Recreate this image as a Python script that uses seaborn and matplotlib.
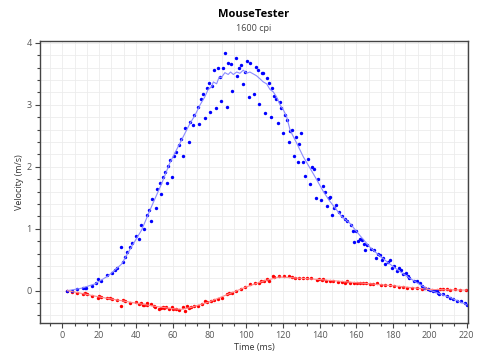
import numpy as np
import pandas as pd
import matplotlib
matplotlib.use("Agg")
import matplotlib.pyplot as plt
import seaborn as sns
from matplotlib.ticker import MultipleLocator

# x velocity samples (blue dots)
blue_t = [2.7, 5.4, 8.2, 11.3, 12.4, 12.9, 16.2, 18.2, 19.3, 21.1, 24.1, 27.0, 28.7, 29.8,
          32.1, 33.0, 33.9, 35.2, 36.8, 38.1, 39.9, 41.9, 43.0, 44.6, 45.9, 47.0, 48.1, 48.8,
          50.8, 51.7, 53.0, 53.9, 54.8, 55.7, 56.8, 57.7, 58.8, 59.7, 60.8, 61.9, 63.7, 64.7,
          65.7, 66.8, 68.8, 69.7, 70.9, 71.8, 73.7, 74.6, 75.6, 76.7, 77.6, 78.6, 79.6, 80.5,
          81.6, 82.7, 83.5, 84.5, 85.6, 86.5, 87.4, 88.5, 89.6, 90.3, 91.6, 92.5, 94.5, 95.2,
          96.3, 97.4, 98.3, 99.4, 100.3, 101.4, 102.3, 104.3, 105.4, 106.3, 107.2, 108.5, 109.4,
          110.3, 111.4, 112.3, 113.4, 114.3, 115.2, 116.3, 117.2, 118.3, 119.2, 120.1, 121.2,
          122.1, 123.2, 124.1, 125.1, 126.1, 127.1, 128.1, 128.9, 129.9, 131.0, 132.0, 134.0,
          134.9, 136.0, 137.0, 138.0, 139.1, 140.9, 141.8, 142.9, 144.0, 144.9, 145.8, 146.9,
          147.8, 148.9, 150.7, 152.0, 153.8, 155.0, 156.9, 158.0, 158.9, 159.8, 160.9, 162.0,
          163.1, 164.0, 164.9, 165.8, 167.8, 169.6, 170.8, 171.6, 172.9, 173.8, 174.7, 175.7,
          177.4, 178.5, 179.6, 180.5, 182.1, 183.2, 184.3, 185.4, 187.2, 188.1, 188.6, 191.4,
          192.8, 194.5, 195.5, 197.0, 199.1, 200.0, 201.5, 202.8, 204.0, 204.6, 205.1, 207.3,
          209.1, 211.0, 212.8, 214.6, 216.9, 219.1, 220.4]
blue_v = [0.00, 0.00, 0.02, 0.05, 0.05, 0.04, 0.08, 0.13, 0.19, 0.16, 0.25, 0.28, 0.33, 0.36,
          0.71, 0.46, 0.55, 0.63, 0.71, 0.77, 0.89, 0.84, 1.06, 1.00, 1.22, 1.30, 1.12, 1.48,
          1.33, 1.64, 1.74, 1.56, 1.84, 1.92, 1.74, 2.01, 2.11, 1.84, 2.18, 2.24, 2.35, 2.45,
          2.18, 2.62, 2.40, 2.73, 2.68, 2.83, 2.97, 2.69, 3.10, 3.18, 2.78, 3.27, 3.35, 2.89,
          3.31, 3.57, 2.95, 3.60, 3.45, 3.07, 3.59, 3.83, 2.96, 3.68, 3.66, 3.22, 3.75, 3.47,
          3.59, 3.64, 3.33, 3.53, 3.70, 3.13, 3.67, 3.17, 3.61, 3.57, 3.02, 3.51, 3.52,
          2.87, 3.43, 3.35, 2.81, 3.28, 3.14, 3.09, 2.70, 3.05, 2.95, 2.54, 2.83,
          2.75, 2.40, 2.58, 2.59, 2.18, 2.48, 2.08, 2.37, 2.54, 2.07, 1.85, 2.12,
          1.73, 1.99, 1.97, 1.50, 1.81, 1.47, 1.69, 1.60, 1.37, 1.50, 1.52, 1.22,
          1.33, 1.38, 1.27, 1.20, 1.15, 1.12, 1.06, 0.97, 0.79, 0.97, 0.81, 0.84,
          0.82, 0.75, 0.66, 0.74, 0.67, 0.65, 0.53, 0.60, 0.57, 0.49, 0.53, 0.43,
          0.47, 0.49, 0.37, 0.40, 0.32, 0.36, 0.34, 0.27, 0.28, 0.23, 0.20, 0.16,
          0.16, 0.12, 0.07, 0.05, 0.02, 0.01, 0.00, -0.01, -0.01, -0.03, -0.05, -0.06,
          -0.09, -0.11, -0.13, -0.16, -0.17, -0.20, -0.23]

# smoothed x velocity (light blue line)
blue_line_t = [2.7, 10.5, 17.8, 25.0, 32.3, 37.7, 43.2, 48.6, 54.1, 58.5, 64.0, 69.5, 72.2,
               75.0, 77.6, 79.4, 81.3, 82.2, 84.0, 85.4, 86.6, 88.5, 90.3, 91.6, 93.1, 94.9,
               96.7, 98.5, 100.3, 102.1, 103.9, 105.7, 107.6, 109.4, 111.2, 113.0, 114.8,
               116.6, 118.5, 120.3, 122.1, 124.0, 127.6, 131.2, 134.8, 138.5, 142.1, 145.7,
               149.4, 152.0, 156.5, 162.0, 167.5, 172.9, 178.3, 183.7, 189.2, 194.6, 200.0,
               205.5, 211.0, 215.7, 220.4]
blue_line_v = [0.00, 0.04, 0.11, 0.24, 0.43, 0.71, 0.98, 1.36, 1.73, 2.06, 2.38, 2.70, 2.83,
               3.00, 3.13, 3.25, 3.29, 3.37, 3.34, 3.45, 3.44, 3.52, 3.49, 3.53, 3.49, 3.53,
               3.51, 3.56, 3.51, 3.53, 3.50, 3.47, 3.42, 3.37, 3.34, 3.25, 3.21,
               3.13, 3.00, 2.92, 2.81, 2.59, 2.38, 2.16, 1.98, 1.79, 1.60, 1.44,
               1.30, 1.20, 1.09, 0.89, 0.70, 0.56, 0.43, 0.31, 0.20, 0.10, 0.01,
               -0.05, -0.11, -0.17, -0.23]

# y velocity samples (red dots)
red_t = [2.7, 5.4, 8.2, 11.3, 12.4, 13.3, 16.2, 19.3, 19.8, 21.1, 24.1, 26.0, 27.0, 29.8,
         32.1, 33.0, 33.9, 36.8, 39.9, 41.9, 43.0, 43.7, 44.6, 45.9, 46.3, 48.1, 50.1, 50.5,
         52.8, 53.7, 54.9, 55.4, 56.6, 57.9, 59.5, 60.2, 61.9, 63.7, 65.5, 66.6, 67.7, 69.0,
         69.9, 71.7, 74.0, 76.0, 77.8, 78.7, 80.7, 82.5, 84.5, 86.7, 89.4, 90.5, 92.3, 94.5,
         97.2, 99.4, 102.1, 104.8, 107.2, 108.1, 109.9, 111.2, 112.6, 114.5, 115.4, 118.1,
         120.8, 123.4, 124.8, 126.6, 128.9, 131.1, 133.3, 135.6, 138.4, 139.6, 141.1, 142.0,
         143.5, 145.6, 147.4, 150.2, 152.0, 153.8, 155.1, 156.5, 158.7, 160.2, 162.0, 163.5,
         165.2, 167.4, 169.2, 171.4, 173.4, 175.6, 178.3, 180.5, 183.0, 185.5, 187.7, 190.1,
         192.8, 195.5, 197.3, 199.1, 201.0, 203.7, 205.5, 207.3, 209.1, 210.9, 213.6, 216.3,
         219.6]
red_v = [0.00, -0.02, -0.04, -0.05, -0.04, -0.05, -0.08, -0.12, -0.09, -0.10, -0.12, -0.11,
         -0.13, -0.15, -0.24, -0.15, -0.17, -0.20, -0.19, -0.21, -0.20, -0.23, -0.23, -0.20,
         -0.23, -0.21, -0.25, -0.26, -0.30, -0.28, -0.26, -0.28, -0.26, -0.30, -0.27, -0.30,
         -0.30, -0.31, -0.26, -0.32, -0.25, -0.28, -0.26, -0.25, -0.24, -0.22, -0.17, -0.19,
         -0.17, -0.15, -0.13, -0.11, -0.06, -0.04, -0.04, -0.01, 0.03, 0.06, 0.11, 0.13, 0.13,
         0.16, 0.15, 0.19, 0.15, 0.23, 0.22, 0.23, 0.24, 0.23, 0.22, 0.20, 0.20, 0.21, 0.20,
         0.20, 0.17, 0.19, 0.18, 0.19, 0.16, 0.15, 0.15, 0.14, 0.14, 0.13, 0.15, 0.13, 0.12,
         0.13, 0.12, 0.13, 0.12, 0.11, 0.11, 0.12, 0.10, 0.10, 0.09, 0.08, 0.06, 0.06, 0.05,
         0.04, 0.04, 0.03, 0.04, 0.02, 0.01, 0.01, 0.02, 0.02, 0.02, 0.01, 0.02, 0.01, 0.01]

# smoothed y velocity (light red line)
red_line_t = [2.7, 10.0, 20.0, 30.0, 40.0, 50.0, 60.0, 65.0, 70.0, 80.0, 90.0, 100.0,
              110.0, 118.0, 125.0, 140.0, 160.0, 180.0, 200.0, 220.0]
red_line_v = [0.00, -0.04, -0.10, -0.15, -0.20, -0.25, -0.29, -0.30, -0.27, -0.18, -0.06,
              0.06, 0.16, 0.22, 0.21, 0.18, 0.13, 0.08, 0.02, 0.01]

df_blue = pd.DataFrame({'t': blue_t, 'v': blue_v})
df_red = pd.DataFrame({'t': red_t, 'v': red_v})
df_blue_line = pd.DataFrame({'t': blue_line_t, 'v': blue_line_v})
df_red_line = pd.DataFrame({'t': red_line_t, 'v': red_line_v})

sns.set_style("white")
plt.rcParams['font.family'] = ['Open Sans', 'DejaVu Sans']

fig = plt.figure(figsize=(4.8, 3.6), dpi=100)
ax = fig.add_axes([0.083, 0.103, 0.892, 0.783])

# lines first, dots on top
sns.lineplot(data=df_blue_line, x='t', y='v', color='#8c8cff', linewidth=0.8, ax=ax)
sns.lineplot(data=df_red_line, x='t', y='v', color='#ff8c8c', linewidth=0.8, ax=ax)
sns.scatterplot(data=df_red, x='t', y='v', color='#ff0000', s=6, marker='o',
                linewidth=0, ax=ax)
sns.scatterplot(data=df_blue, x='t', y='v', color='#0000ff', s=6, marker='o',
                linewidth=0, ax=ax)

ax.set_xlim(-12.2, 220.8)
ax.set_ylim(-0.52, 4.03)
ax.xaxis.set_major_locator(MultipleLocator(20))
ax.xaxis.set_minor_locator(MultipleLocator(20 / 3))
ax.yaxis.set_major_locator(MultipleLocator(1))
ax.yaxis.set_minor_locator(MultipleLocator(0.2))

ax.grid(True, which='both', color='#ececec', linewidth=0.6)
ax.set_axisbelow(True)

for s in ax.spines.values():
    s.set_color('#444444')
    s.set_linewidth(1.0)

ax.tick_params(axis='both', which='major', direction='out', length=3.5, width=0.8,
               color='#444444', labelsize=6.5, labelcolor='#555555', pad=2.5,
               bottom=True, left=True)
ax.tick_params(axis='both', which='minor', direction='out', length=2, width=0.8,
               color='#444444', bottom=True, left=True)

ax.set_xlabel('Time (ms)', fontsize=6.5, color='#333333')
ax.set_ylabel('Velocity (m/s)', fontsize=6.5, color='#333333')
ax.xaxis.set_label_coords(0.5, -0.071)
ax.yaxis.set_label_coords(-0.036, 0.5)

cx = 0.083 + 0.892 / 2
fig.text(cx, 0.961, 'MouseTester', ha='center', va='center', fontsize=8,
         fontweight='bold', color='#000000')
fig.text(cx, 0.922, '1600 cpi', ha='center', va='center', fontsize=6.5, color='#444444')

fig.savefig('out.png', dpi=100)
